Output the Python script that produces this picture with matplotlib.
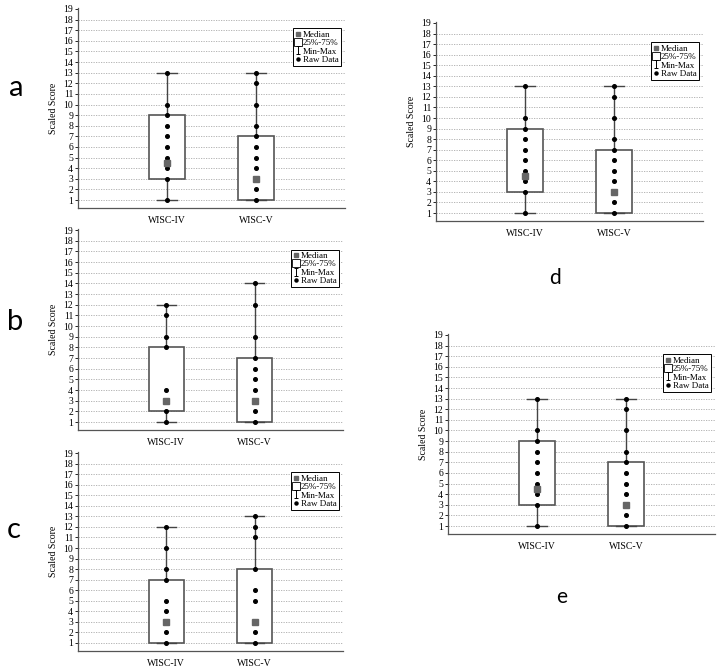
import matplotlib.pyplot as plt
from matplotlib.lines import Line2D
from matplotlib.path import Path

plt.rcParams['font.family'] = ['Liberation Serif', 'DejaVu Serif']

# categorias
groups = ["WISC-IV", "WISC-V"]
letters = ["a", "b", "c", "d", "e"]

# estatisticas por painel: [q1, mediana, q3, min, max] para cada grupo
stats_a = [[3, 4.5, 9, 1, 13], [1, 3, 7, 1, 13]]
stats_b = [[2, 3, 8, 1, 12], [1, 3, 7, 1, 14]]
stats_c = [[1, 3, 7, 1, 12], [1, 3, 8, 1, 13]]
stats_d = [[3, 4.5, 9, 1, 13], [1, 3, 7, 1, 13]]
stats_e = [[3, 4.5, 9, 1, 13], [1, 3, 7, 1, 13]]

# dados brutos
raw_a = [[1, 3, 4, 5, 6, 7, 8, 9, 10, 13], [1, 2, 3, 4, 5, 6, 7, 8, 10, 12, 13]]
raw_b = [[1, 2, 4, 8, 9, 11, 12], [1, 2, 3, 4, 5, 6, 7, 9, 12, 14]]
raw_c = [[1, 2, 4, 5, 7, 8, 10, 12], [1, 2, 5, 6, 8, 11, 12, 13]]
raw_d = [[1, 3, 4, 5, 6, 7, 8, 9, 10, 13], [1, 2, 3, 4, 5, 6, 7, 8, 10, 12, 13]]
raw_e = [[1, 3, 4, 5, 6, 7, 8, 9, 10, 13], [1, 2, 3, 4, 5, 6, 7, 8, 10, 12, 13]]

all_stats = [stats_a, stats_b, stats_c, stats_d, stats_e]
all_raw = [raw_a, raw_b, raw_c, raw_d, raw_e]

W, H = 720, 667
# posicoes em pixels: esquerda, direita, y do tick 19, y do tick 1
boxes_px = [(78, 345, 9, 200), (78, 343, 230, 422), (78, 343, 453, 643),
            (436, 703, 23, 213), (448, 715, 335, 526)]
# posicao das letras (pixels) e tamanho
letter_px = [(16, 88, 21), (15, 322, 21), (14, 530, 21), (555, 278, 15), (562, 597, 15)]

ylo, yhi = 0.25, 19.05

# simbolo "I" do Min-Max
minmax_path = Path([(-0.5, 1), (0.5, 1), (0, 1), (0, -1), (-0.5, -1), (0.5, -1)],
                   [Path.MOVETO, Path.LINETO, Path.MOVETO, Path.LINETO, Path.MOVETO, Path.LINETO])

fig = plt.figure(figsize=(W / 100, H / 100), dpi=100)

edge = "#555555"
for i in range(5):
    x0, x1, y19, y1 = boxes_px[i]
    unit = (y1 - y19) / 18.0
    top = y19 - (yhi - 19) * unit
    bot = y1 + (1 - ylo) * unit
    ax = fig.add_axes([x0 / W, 1 - bot / H, (x1 - x0) / W, (bot - top) / H])

    bstats = []
    for g, s in zip(groups, all_stats[i]):
        q1, med, q3, lo, hi = s
        bstats.append(dict(label=g, q1=q1, med=med, q3=q3, whislo=lo, whishi=hi, fliers=[]))
    ax.bxp(bstats, positions=[1, 2], widths=0.4, patch_artist=True, showfliers=False,
           boxprops=dict(facecolor="white", edgecolor=edge, linewidth=1.2),
           whiskerprops=dict(color="#444444", linewidth=1.0),
           capprops=dict(color="#444444", linewidth=1.0),
           medianprops=dict(visible=False), capwidths=0.22, zorder=2)

    for k, vals in enumerate(all_raw[i]):
        ax.plot([k + 1] * len(vals), vals, "o", color="black", markersize=2.6, zorder=4)
        ax.plot(k + 1, all_stats[i][k][1], "s", color="#666666", markersize=4, zorder=5)

    ax.set_xlim(0, 3)
    ax.set_ylim(ylo, yhi)
    ax.set_yticks(range(1, 20))
    ax.set_xticks([1, 2])
    ax.set_xticklabels(groups)
    ax.tick_params(axis="y", labelsize=7, length=2, width=0.6, pad=1.5, colors="black")
    ax.tick_params(axis="x", labelsize=7, length=0, pad=6)
    ax.set_ylabel("Scaled Score", fontsize=7, labelpad=4)
    for gy in range(1, 19):
        ax.axhline(gy, color="#aaaaaa", linewidth=0.6, linestyle=(0, (1.5, 1.5)), zorder=0)
    ax.spines["top"].set_visible(False)
    ax.spines["right"].set_visible(False)
    ax.spines["left"].set_color(edge)
    ax.spines["bottom"].set_color(edge)
    ax.spines["left"].set_linewidth(0.9)
    ax.spines["bottom"].set_linewidth(0.9)

    handles = [
        Line2D([], [], marker="s", linestyle="none", color="#666666", markersize=3),
        Line2D([], [], marker="s", linestyle="none", markerfacecolor="white",
               markeredgecolor="black", markeredgewidth=0.6, markersize=6),
        Line2D([], [], marker=minmax_path, linestyle="none", markerfacecolor="none",
               markeredgecolor="black", markeredgewidth=0.7, markersize=6),
        Line2D([], [], marker="o", linestyle="none", color="black", markersize=2.2),
    ]
    leg = ax.legend(handles, ["Median", "25%-75%", "Min-Max", "Raw Data"],
                    loc="upper right", bbox_to_anchor=(0.985, 0.9), fontsize=6.5,
                    handlelength=0.6, handletextpad=0.25, labelspacing=0.0,
                    borderpad=0.25, fancybox=False, framealpha=1, borderaxespad=0)
    leg.get_frame().set_edgecolor("black")
    leg.get_frame().set_linewidth(0.7)

    lx, ly, fs = letter_px[i]
    fig.text(lx / W, 1 - ly / H, letters[i], fontsize=fs, family="Lato",
             ha="center", va="center")

fig.savefig("out.png", dpi=100)
